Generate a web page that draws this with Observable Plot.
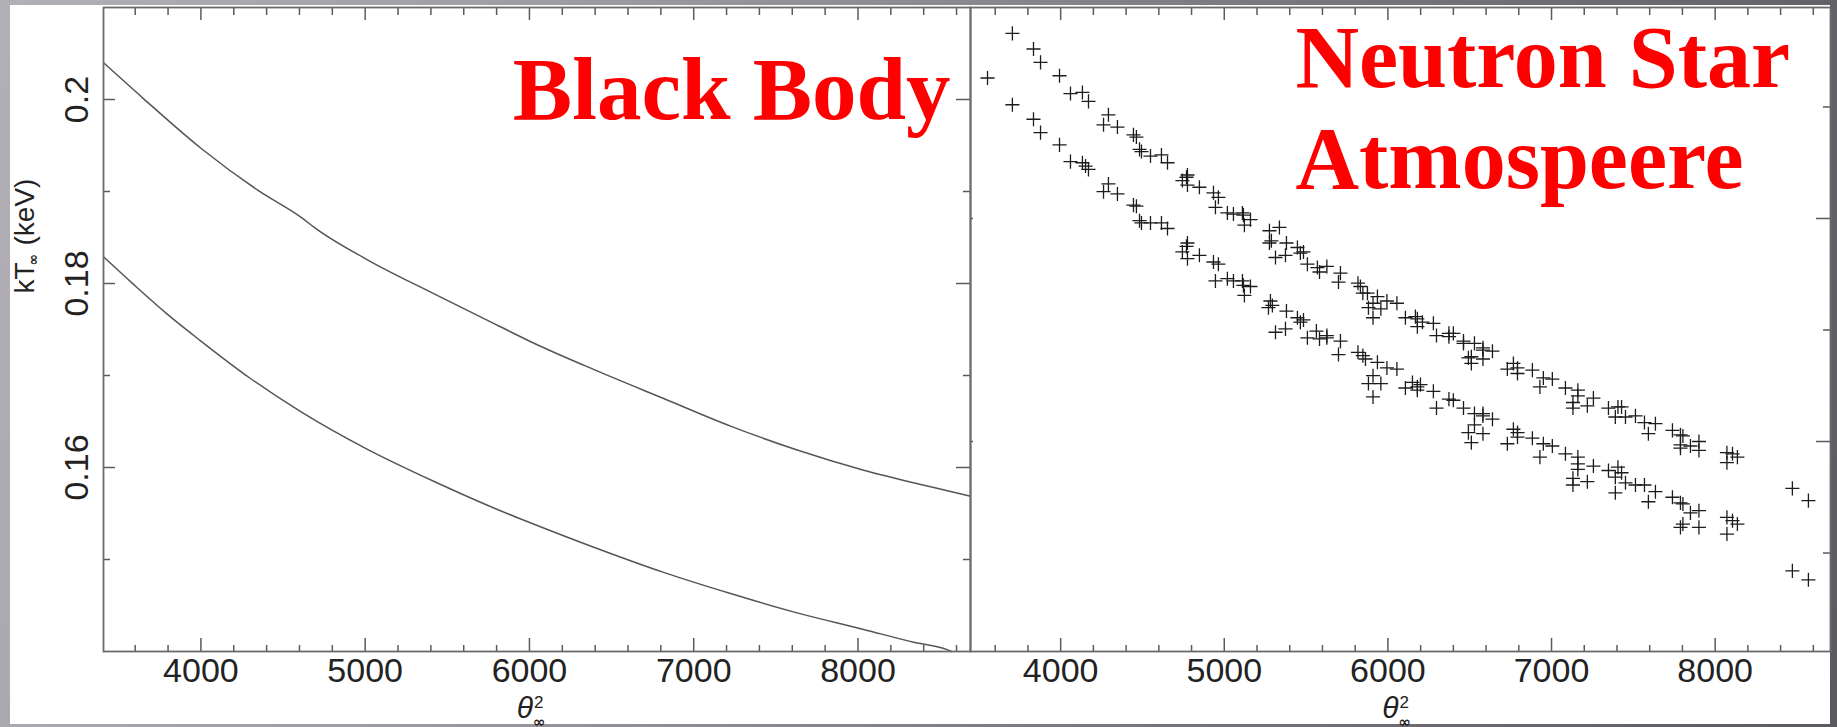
<!DOCTYPE html>
<html>
<head>
<meta charset="utf-8">
<script src="https://cdn.jsdelivr.net/npm/d3@7"></script>
<script src="https://cdn.jsdelivr.net/npm/@observablehq/plot@0.6"></script>
<style>
  html, body { margin: 0; padding: 0; }
  body {
    width: 1837px; height: 727px; overflow: hidden; position: relative;
    background: linear-gradient(105deg, #b2b0b6 0%, #9c9aa0 30%, #78767c 65%, #5c5a5f 100%);
  }
  #panel { position: absolute; left: 10px; top: 5px; width: 1820px; height: 719px; background: #ffffff; }
  .plot { position: absolute; left: 0; top: 0; }
  .plot svg { overflow: visible; }
</style>
</head>
<body>
<div id="panel"></div>
<div id="left" class="plot"></div>
<div id="right" class="plot"></div>
<script>
// ---------- data: Black Body panel (two model curves) ----------
const bbUpperX = [3407, 3650, 4000, 4341, 4625, 4690, 5011, 5417, 5823, 6005, 6412, 6817, 7224, 7630, 8035, 8442, 8681];
const bbUpperY = [0.2040, 0.2001, 0.1947, 0.1902, 0.1870, 0.1861, 0.1826, 0.1789, 0.1753, 0.1737, 0.1705, 0.1675, 0.1645, 0.1619, 0.1597, 0.1579, 0.1569];
const bbLowerX = [3407, 3590, 3793, 3996, 4300, 4605, 5011, 5417, 5823, 6005, 6412, 6817, 7224, 7630, 8035, 8340, 8543, 8570];
const bbLowerY = [0.1829, 0.1799, 0.1767, 0.1738, 0.1697, 0.1661, 0.1620, 0.1585, 0.1553, 0.1540, 0.1512, 0.1486, 0.1463, 0.1442, 0.1424, 0.1410, 0.1402, 0.1400];

// ---------- data: Neutron Star Atmosphere panel (scatter, two bands) ----------
const nsUpperX = [3705, 3834, 3877, 3993, 4060, 4133, 4170, 4292, 4262, 4347,
  4445, 4463, 4482, 4494, 4549, 4616, 4653, 4775, 4769, 4744,
  4775, 4848, 4934, 4964, 4946, 5019, 5056, 5111, 5117, 5160,
  5123, 5276, 5337, 5288, 5276, 5380, 5313, 5374, 5447, 5484,
  5465, 5508, 5569, 5627, 5582, 5710, 5698, 5817, 5847, 5832,
  5875, 5936, 5994, 6055, 5909, 5881, 5957, 5909, 6107, 6168,
  6180, 6180, 6211, 6278, 6297, 6373, 6400, 6373, 6462, 6462,
  6529, 6581, 6581, 6639, 6510, 6492, 6510, 6581, 6730, 6767,
  6792, 6792, 6883, 6950, 7005, 6929, 7085, 7161, 7161, 7131,
  7131, 7219, 7256, 7348, 7406, 7428, 7390, 7452, 7513, 7568,
  7635, 7592, 7739, 7788, 7803, 7788, 7849, 7788, 7901, 7901,
  8072, 8106, 8136, 8072, 8472, 8570];
const nsUpperY = [0.2166, 0.2152, 0.2140, 0.2128, 0.2112, 0.2113, 0.2105, 0.2093, 0.2084, 0.2082,
  0.2075, 0.2073, 0.2062, 0.2060, 0.2056, 0.2057, 0.2050, 0.2039, 0.2037, 0.2034,
  0.2030, 0.2028, 0.2023, 0.2019, 0.2010, 0.2005, 0.2004, 0.2005, 0.2003, 0.1999,
  0.1994, 0.1989, 0.1992, 0.1980, 0.1978, 0.1978, 0.1965, 0.1967, 0.1974, 0.1970,
  0.1969, 0.1959, 0.1956, 0.1957, 0.1952, 0.1951, 0.1943, 0.1942, 0.1933, 0.1939,
  0.1933, 0.1930, 0.1926, 0.1924, 0.1924, 0.1920, 0.1919, 0.1911, 0.1911, 0.1912,
  0.1910, 0.1903, 0.1907, 0.1906, 0.1895, 0.1897, 0.1897, 0.1894, 0.1890, 0.1888,
  0.1888, 0.1884, 0.1882, 0.1881, 0.1876, 0.1875, 0.1870, 0.1874, 0.1865, 0.1870,
  0.1866, 0.1861, 0.1864, 0.1857, 0.1856, 0.1849, 0.1848, 0.1846, 0.1841, 0.1835,
  0.1830, 0.1832, 0.1839, 0.1830, 0.1831, 0.1831, 0.1822, 0.1822, 0.1823, 0.1817,
  0.1816, 0.1807, 0.1810, 0.1806, 0.1805, 0.1797, 0.1796, 0.1794, 0.1800, 0.1792,
  0.1790, 0.1789, 0.1786, 0.1781, 0.1758, 0.1747];
const nsLowerX = [3553, 3705, 3834, 3877, 3993, 4060, 4133, 4152, 4170, 4292,
  4262, 4347, 4445, 4463, 4482, 4494, 4549, 4616, 4653, 4775,
  4769, 4744, 4775, 4848, 4934, 4964, 4946, 5019, 5056, 5111,
  5117, 5160, 5123, 5282, 5294, 5270, 5380, 5447, 5484, 5465,
  5313, 5374, 5508, 5563, 5582, 5627, 5627, 5710, 5698, 5817,
  5847, 5863, 5936, 5994, 6055, 5909, 5881, 5957, 5909, 6107,
  6150, 6180, 6199, 6180, 6278, 6297, 6373, 6400, 6462, 6529,
  6581, 6581, 6639, 6529, 6492, 6510, 6581, 6767, 6792, 6730,
  6792, 6883, 6950, 7005, 6929, 7085, 7161, 7161, 7161, 7256,
  7131, 7131, 7219, 7348, 7406, 7428, 7390, 7390, 7452, 7513,
  7568, 7635, 7592, 7739, 7788, 7803, 7849, 7901, 7803, 7788,
  7901, 8072, 8106, 8136, 8072, 8472, 8570];
const nsLowerY = [0.2126, 0.2102, 0.2089, 0.2077, 0.2066, 0.2051, 0.2050, 0.2047, 0.2044, 0.2031,
  0.2024, 0.2022, 0.2012, 0.2011, 0.1998, 0.1996, 0.1996, 0.1996, 0.1991, 0.1978,
  0.1975, 0.1970, 0.1964, 0.1967, 0.1961, 0.1959, 0.1944, 0.1946, 0.1944, 0.1944,
  0.1940, 0.1939, 0.1931, 0.1926, 0.1922, 0.1920, 0.1917, 0.1911, 0.1909, 0.1907,
  0.1898, 0.1901, 0.1893, 0.1899, 0.1892, 0.1895, 0.1893, 0.1890, 0.1878, 0.1880,
  0.1877, 0.1874, 0.1871, 0.1866, 0.1865, 0.1859, 0.1852, 0.1852, 0.1840, 0.1848,
  0.1853, 0.1849, 0.1851, 0.1846, 0.1845, 0.1830, 0.1838, 0.1837, 0.1830, 0.1825,
  0.1823, 0.1825, 0.1820, 0.1815, 0.1808, 0.1799, 0.1807, 0.1811, 0.1808, 0.1798,
  0.1804, 0.1803, 0.1798, 0.1796, 0.1786, 0.1789, 0.1786, 0.1780, 0.1775, 0.1778,
  0.1767, 0.1761, 0.1764, 0.1774, 0.1777, 0.1772, 0.1768, 0.1754, 0.1763, 0.1761,
  0.1761, 0.1755, 0.1746, 0.1750, 0.1745, 0.1744, 0.1736, 0.1738, 0.1726, 0.1723,
  0.1723, 0.1732, 0.1729, 0.1726, 0.1717, 0.1684, 0.1676];

// ---------- ticks and labels ----------
const xMajorTicks = [4000, 5000, 6000, 7000, 8000];
const xMinorTicks = [3600, 3800, 4200, 4400, 4600, 4800, 5200, 5400, 5600, 5800, 6200, 6400, 6600, 6800, 7200, 7400, 7600, 7800, 8200, 8400, 8600];
const bbYMajor = [0.16, 0.18, 0.2];
const bbYMinor = [0.15, 0.17, 0.19];
const bbYTickLabels = ["0.16", "0.18", "0.2"];
const nsYMajor = [0.18, 0.2];
const nsYMinor = [0.17, 0.19, 0.21];
const titleLeft = "Black Body";
const titleRight1 = "Neutron Star";
const titleRight2 = "Atmospeere";

// ---------- layout ----------
const W = 1837, H = 727;
const TOP = 7, BOTTOM = 651, SPLIT = 970, LEFTAX = 103, RIGHTAX = 1830;
const innerH = BOTTOM - TOP;
const AX = "#5a5a5a";
const tickFont = "'Liberation Sans Narrow', 'Arial Narrow', 'Liberation Sans', sans-serif";
const titleFont = "'Liberation Serif', 'Times New Roman', serif";
const RED = "#ff0000";

const rows = (xs, ys) => xs.map((x, i) => ({x, y: ys[i]}));
const bbUpper = rows(bbUpperX, bbUpperY);
const bbLower = rows(bbLowerX, bbLowerY);
const nsUpper = rows(nsUpperX, nsUpperY);
const nsLower = rows(nsLowerX, nsLowerY);
const bbYTicks = bbYMajor.map((v, i) => ({v, label: bbYTickLabels[i]}));

function tickMarks(innerW, yMajor, yMinor, opts) {
  const s = {stroke: AX, strokeWidth: 1.5};
  const m = [
    Plot.ruleX(xMajorTicks, {x: d => d, insetTop: innerH - 13, ...s}),
    Plot.ruleX(xMinorTicks, {x: d => d, insetTop: innerH - 6, ...s}),
    Plot.ruleX(xMajorTicks, {x: d => d, insetBottom: innerH - 13, ...s}),
    Plot.ruleX(xMinorTicks, {x: d => d, insetBottom: innerH - 8, ...s}),
    Plot.ruleY(yMajor, {y: d => d, insetLeft: innerW - 14, ...s}),
    Plot.ruleY(yMinor, {y: d => d, insetLeft: innerW - 7, ...s})
  ];
  if (opts.leftMajor) m.push(Plot.ruleY(yMajor, {y: d => d, insetRight: innerW - opts.leftMajor, ...s}));
  if (opts.leftMinor) m.push(Plot.ruleY(yMinor, {y: d => d, insetRight: innerW - opts.leftMinor, ...s}));
  return m;
}

function xLabel(dxTheta) {
  return [
    Plot.text(["\u03B8"], {frameAnchor: "bottom", dx: dxTheta, dy: 66, lineAnchor: "bottom", textAnchor: "middle",
      fontFamily: "'Liberation Sans', sans-serif", fontStyle: "italic", fontSize: 30, fill: "#222"}),
    Plot.text(["2"], {frameAnchor: "bottom", dx: dxTheta + 9, dy: 56, lineAnchor: "bottom", textAnchor: "start",
      fontFamily: "'Liberation Sans', sans-serif", fontSize: 17, fill: "#222"}),
    Plot.text(["\u221E"], {frameAnchor: "bottom", dx: dxTheta + 8, dy: 75, lineAnchor: "bottom", textAnchor: "start",
      fontFamily: "'DejaVu Sans', sans-serif", fontSize: 15, fontWeight: "bold", fill: "#222"})
  ];
}

const xTickFormat = d => String(d);

// ---------- left panel: Black Body ----------
const leftW = SPLIT - LEFTAX;
const left = Plot.plot({
  width: W, height: H,
  marginLeft: LEFTAX, marginRight: W - SPLIT, marginTop: TOP, marginBottom: H - BOTTOM,
  style: {background: "transparent", fontFamily: tickFont, color: "#222", overflow: "visible"},
  x: {domain: [3407, 8685]},
  y: {domain: [0.14, 0.21], axis: null},
  marks: [
    Plot.line(bbUpper, {x: "x", y: "y", stroke: "#555", strokeWidth: 1.5, curve: "monotone-x"}),
    Plot.line(bbLower, {x: "x", y: "y", stroke: "#555", strokeWidth: 1.5, curve: "monotone-x"}),
    ...tickMarks(leftW, bbYMajor, bbYMinor, {leftMajor: 12, leftMinor: 7}),
    Plot.frame({stroke: "#6a6a6a", strokeWidth: 1.8}),
    Plot.axisX(xMajorTicks, {tickSize: 0, tickPadding: 6, label: null, tickFormat: xTickFormat, fontSize: 34, fill: "#222"}),
    Plot.text(bbYTicks, {y: "v", text: "label", frameAnchor: "left", dx: -16, rotate: -90,
      lineAnchor: "bottom", textAnchor: "middle", fontSize: 34, fill: "#222"}),
    // y axis title: kT∞ (keV)
    Plot.text(["kT"], {frameAnchor: "top-left", dx: -78, dy: 286, rotate: -90, lineAnchor: "middle",
      textAnchor: "start", fontSize: 28, fill: "#222"}),
    Plot.text(["\u221E"], {frameAnchor: "top-left", dx: -70, dy: 258, rotate: -90, lineAnchor: "middle",
      textAnchor: "start", fontFamily: "'DejaVu Sans', sans-serif", fontSize: 14, fontWeight: "bold", fill: "#222"}),
    Plot.text(["(keV)"], {frameAnchor: "top-left", dx: -78, dy: 238, rotate: -90, lineAnchor: "middle",
      textAnchor: "start", fontSize: 28, fill: "#222"}),
    ...xLabel(-12),
    Plot.text([titleLeft], {frameAnchor: "top-right", dx: -20, dy: 111, lineAnchor: "bottom", textAnchor: "end",
      fontFamily: titleFont, fontWeight: "bold", fontSize: 89, fill: RED})
  ]
});
document.getElementById("left").append(left);

// ---------- right panel: Neutron Star Atmosphere ----------
const rightW = RIGHTAX - SPLIT;
const right = Plot.plot({
  width: W, height: H,
  marginLeft: SPLIT, marginRight: W - RIGHTAX, marginTop: TOP, marginBottom: H - BOTTOM,
  style: {background: "transparent", fontFamily: tickFont, color: "#222", overflow: "visible"},
  x: {domain: [3449, 8705]},
  y: {domain: [0.16117, 0.21892], axis: null},
  marks: [
    Plot.dot(nsUpper, {x: "x", y: "y", symbol: "plus", r: 4.6, stroke: "#1c1c1c", strokeWidth: 1.3}),
    Plot.dot(nsLower, {x: "x", y: "y", symbol: "plus", r: 4.6, stroke: "#1c1c1c", strokeWidth: 1.3}),
    ...tickMarks(rightW, nsYMajor, nsYMinor, {leftMajor: 3}),
    Plot.frame({stroke: "#6a6a6a", strokeWidth: 1.8}),
    Plot.axisX(xMajorTicks, {tickSize: 0, tickPadding: 6, label: null, tickFormat: xTickFormat, fontSize: 34, fill: "#222"}),
    ...xLabel(-10),
    Plot.text([titleRight1], {frameAnchor: "top-left", dx: 325, dy: 79, lineAnchor: "bottom", textAnchor: "start",
      fontFamily: titleFont, fontWeight: "bold", fontSize: 88, fill: RED}),
    Plot.text([titleRight2], {frameAnchor: "top-left", dx: 325, dy: 180, lineAnchor: "bottom", textAnchor: "start",
      fontFamily: titleFont, fontWeight: "bold", fontSize: 88, fill: RED})
  ]
});
document.getElementById("right").append(right);
</script>
</body>
</html>
